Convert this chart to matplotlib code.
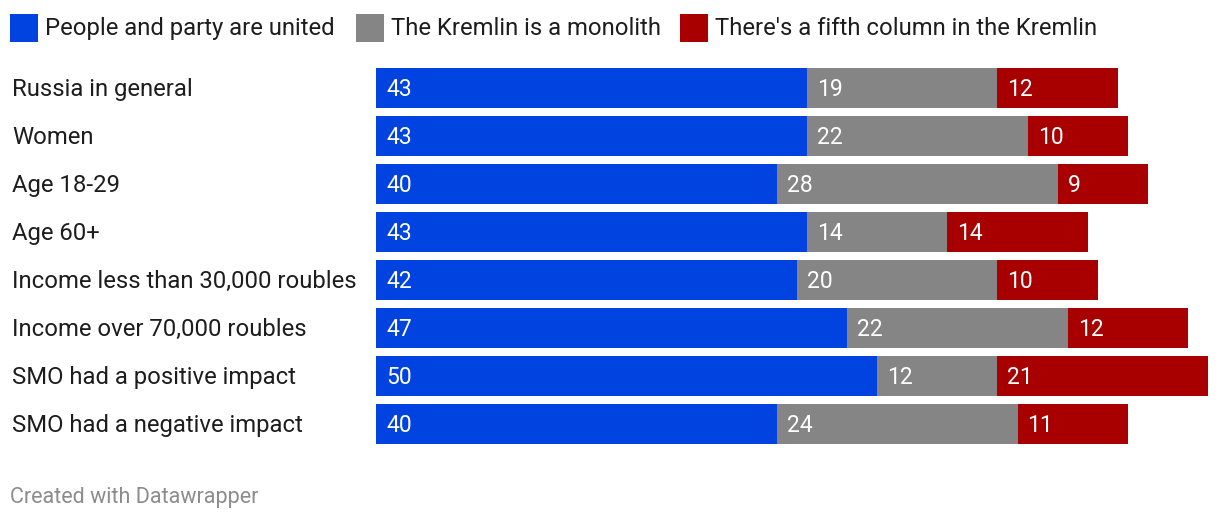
import matplotlib.pyplot as plt
from matplotlib.patches import Rectangle
import numpy as np

plt.rcParams['font.family'] = ['Roboto', 'DejaVu Sans']

# data
groups = ['Russia in general', 'Women', 'Age 18-29', 'Age 60+',
          'Income less than 30,000 roubles', 'Income over 70,000 roubles',
          'SMO had a positive impact', 'SMO had a negative impact']
united = [43, 43, 40, 43, 42, 47, 50, 40]
monolith = [19, 22, 28, 14, 20, 22, 12, 24]
fifth_col = [12, 10, 9, 14, 10, 12, 21, 11]
series_names = ['People and party are united', 'The Kremlin is a monolith',
                "There's a fifth column in the Kremlin"]
colors = ['#0043E0', '#858585', '#A80000']

W, H = 1220, 522
fig = plt.figure(figsize=(W / 100, H / 100), dpi=100)

# axes placed in pixel terms
ax_left, ax_right, ax_top, ax_bottom = 376, 1218, 64, 448
ax = fig.add_axes([ax_left / W, 1 - ax_bottom / H,
                   (ax_right - ax_left) / W, (ax_bottom - ax_top) / H])

y = np.arange(len(groups))
left = np.zeros(len(groups))
for vals, c in zip([united, monolith, fifth_col], colors):
    vals = np.array(vals)
    ax.barh(y, vals, left=left, height=40 / 48, color=c, linewidth=0)
    for yi, l, v in zip(y, left, vals):
        ax.text(l + 1.0, yi + 0.04, str(v), color='white', fontsize=16.5,
                va='center', ha='left')
    left = left + vals

ax.set_xlim(0, 84)
ax.set_ylim(len(groups) - 0.5, -0.5)
ax.axis('off')

# row labels
px_per_unit = (ax_right - ax_left) / 84
for yi, g in zip(y, groups):
    ax.text(-364 / px_per_unit, yi + 0.04, g, fontsize=17.2, color='#1d1d1d',
            va='center', ha='left')

# legend
leg_x = [10, 356, 680]
for lx, name, c in zip(leg_x, series_names, colors):
    fig.patches.append(Rectangle((lx / W, 1 - 42 / H), 28 / W, 28 / H,
                                 transform=fig.transFigure, color=c,
                                 linewidth=0))
    fig.text((lx + 35) / W, 1 - 28.5 / H, name, fontsize=17.2,
             color='#1d1d1d', va='center', ha='left')

fig.text(10 / W, 1 - 497 / H, 'Created with Datawrapper', fontsize=15.5,
         color='#8c8c8c', va='center', ha='left')

fig.savefig('out.png', dpi=100)
